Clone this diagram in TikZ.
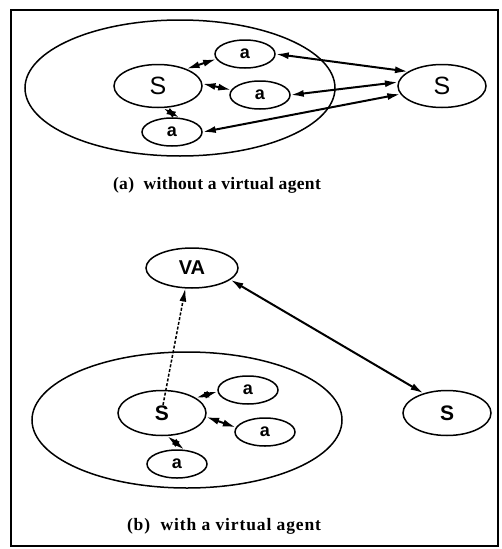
\documentclass[tikz,border=0pt]{standalone}
\usepackage{fontspec}
\setmainfont{Liberation Serif}
\setsansfont{Liberation Sans}
\usetikzlibrary{shapes.geometric,arrows.meta}

\tikzset{
  oval/.style={draw,ellipse,line width=1.5pt,inner sep=0pt},
  cluster/.style={oval,minimum width=310pt,minimum height=136pt},
  sitebig/.style={oval,minimum width=88pt,minimum height=43pt,
    font=\sffamily\fontsize{25}{25}\selectfont},
  siteb/.style={oval,minimum width=88pt,minimum height=45pt,
    font=\sffamily\bfseries\fontsize{21}{21}\selectfont},
  agent/.style={oval,minimum width=60pt,minimum height=28pt,
    font=\sffamily\bfseries\fontsize{18}{18}\selectfont},
  virt/.style={oval,minimum width=92pt,minimum height=40pt,
    font=\sffamily\bfseries\fontsize{20}{20}\selectfont},
  tip/.tip={Latex[length=13pt,width=7pt]},
  link/.style={line width=2pt,tip-tip},
  captext/.style={font=\bfseries\fontsize{17.5}{17.5}\selectfont},
}

\begin{document}
\begin{tikzpicture}[x=1pt,y=-1pt]
\useasboundingbox (0,0) rectangle (501,549);
\draw[line width=1.3pt] (11,10) rectangle (498,546);

% (a) without a virtual agent
\node[cluster] (ga) at (180,88) {};
\node[sitebig] (sa) at (158,86) {S};
\node[agent] (a1) at (245,54) {a};
\node[agent] (a2) at (260,95) {a};
\node[agent] (a3) at (172,132) {a};
\node[sitebig] (sr) at (442,86) {S};
\draw[link] (sa.31) -- (a1.190);
\draw[link] (sa.3) -- (a2.170);
\draw[link] (sa.283) -- (a3.63);
\draw[link] (a1.east) -- (sr.157);
\draw[link] (a2.east) -- (sr.175);
\draw[link] (a3.east) -- (sr.191);
\node[captext] (capa) at (217,185) {\addfontfeature{LetterSpace=2}(a)\ \ without a virtual agent};

% (b) with a virtual agent
\node[virt] (va) at (192,268) {VA};
\node[cluster] (gb) at (187,420) {};
\node[siteb] (sb) at (162,413) {S};
\node[agent] (b1) at (248,390) {a};
\node[agent] (b2) at (265,432) {a};
\node[agent] (b3) at (177,464) {a};
\node[siteb] (sr2) at (447,413) {S};
\coordinate (dstart) at (163,405);
\draw[line width=1.5pt,dash pattern=on 3pt off 1.8pt,-tip] (dstart) -- (va.252);
\draw[link] (va.343) -- (sr2.140);
\draw[link] (sb.24) -- (b1.183);
\draw[link] (sb.355) -- (b2.171);
\draw[link] (sb.283) -- (b3.63);
\node[captext] (capb) at (224,526) {\addfontfeature{LetterSpace=5}(b)\ \ with a virtual agent};
\end{tikzpicture}
\end{document}
